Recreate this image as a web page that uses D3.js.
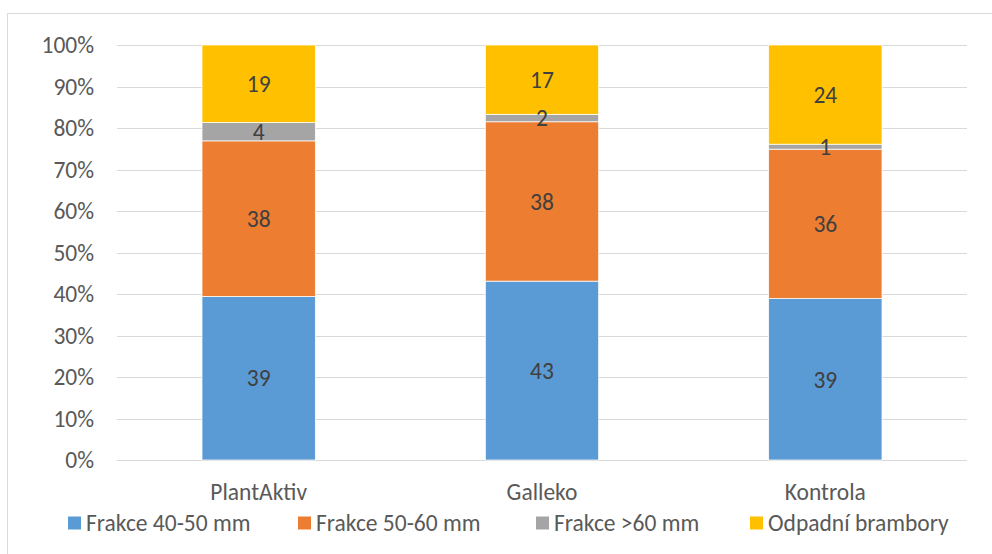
<!DOCTYPE html>
<html>
<head>
<meta charset="utf-8">
<script src="https://cdn.jsdelivr.net/npm/d3@7"></script>
<style>
  body { margin: 0; background: #fff; }
  text { font-family: Carlito, Calibri, Lato, sans-serif; }
</style>
</head>
<body>
<div class="container"></div>
<script>
// data (percent of total per variant)
const categories = ['PlantAktiv', 'Galleko', 'Kontrola'];
const seriesNames = ['Frakce 40-50 mm', 'Frakce 50-60 mm', 'Frakce >60 mm', 'Odpadní brambory'];
const frakce4050 = [39.4, 43.1, 38.9];
const frakce5060 = [37.5, 38.4, 36.0];
const frakce60 = [4.4, 1.8, 1.2];
const odpadni = [18.7, 16.7, 23.9];
const yTicks = [0, 0.1, 0.2, 0.3, 0.4, 0.5, 0.6, 0.7, 0.8, 0.9, 1];

const colors = ['#5b9bd5', '#ed7d31', '#a5a5a5', '#ffc000'];
const fontSize = 23.5;

const W = 992, H = 554;
const svg = d3.select('.container')
  .append('svg')
  .attr('width', W)
  .attr('height', H);

// chart border
svg.append('rect')
  .attr('x', 7.5).attr('y', 13.5)
  .attr('width', W).attr('height', H)
  .attr('fill', 'none')
  .attr('stroke', '#d9d9d9');

const x = d3.scaleBand().domain(categories).range([117, 967]);
const y = d3.scaleLinear().domain([0, 1]).range([460, 45]);

// rows for the stack, normalised to 100 %
const rows = categories.map((c, i) => {
  const vals = [frakce4050[i], frakce5060[i], frakce60[i], odpadni[i]];
  const total = d3.sum(vals);
  const row = { cat: c };
  seriesNames.forEach((s, j) => { row[s] = vals[j] / total; row[s + '_raw'] = vals[j]; });
  return row;
});
const stacked = d3.stack().keys(seriesNames)(rows);

// gridlines
svg.append('g')
  .selectAll('line')
  .data(yTicks)
  .join('line')
  .attr('x1', 117).attr('x2', 967)
  .attr('y1', d => Math.round(y(d)) + 0.5)
  .attr('y2', d => Math.round(y(d)) + 0.5)
  .attr('stroke', '#d9d9d9')
  .attr('stroke-width', 1);

// y axis labels
const yAxis = svg.append('g')
  .attr('transform', 'translate(94,0)')
  .call(d3.axisLeft(y).tickValues(yTicks).tickFormat(d3.format('.0%')).tickSize(0).tickPadding(0));
yAxis.select('.domain').remove();
yAxis.selectAll('text')
  .attr('font-size', fontSize)
  .attr('fill', '#595959')
  .attr('font-family', 'Carlito, Calibri, Lato, sans-serif');

const barW = x.bandwidth() * 0.4;

const layers = svg.append('g')
  .selectAll('g')
  .data(stacked)
  .join('g')
  .attr('fill', (d, i) => colors[i]);

layers.selectAll('rect')
  .data(d => d)
  .join('rect')
  .attr('x', d => x(d.data.cat) + x.bandwidth() / 2 - barW / 2)
  .attr('y', d => y(d[1]))
  .attr('width', barW)
  .attr('height', d => y(d[0]) - y(d[1]))
  .attr('stroke', '#fff')
  .attr('stroke-width', 0.75);

// data labels
stacked.forEach(layer => {
  svg.append('g')
    .selectAll('text')
    .data(layer)
    .join('text')
    .attr('x', d => x(d.data.cat) + x.bandwidth() / 2)
    .attr('y', d => (y(d[0]) + y(d[1])) / 2)
    .attr('dy', '0.35em')
    .attr('text-anchor', 'middle')
    .attr('font-size', fontSize)
    .attr('fill', '#404040')
    .text(d => Math.round(d.data[layer.key + '_raw']));
});

// category labels
svg.append('g')
  .selectAll('text')
  .data(categories)
  .join('text')
  .attr('x', d => x(d) + x.bandwidth() / 2)
  .attr('y', 492)
  .attr('dy', '0.35em')
  .attr('text-anchor', 'middle')
  .attr('font-size', fontSize)
  .attr('fill', '#595959')
  .text(d => d);

// legend
const legendX = [68, 298, 536, 750];
const legend = svg.append('g')
  .selectAll('g')
  .data(seriesNames)
  .join('g')
  .attr('transform', (d, i) => `translate(${legendX[i]},523)`);
legend.append('rect')
  .attr('x', 0).attr('y', -6.5)
  .attr('width', 13).attr('height', 13)
  .attr('fill', (d, i) => colors[i]);
legend.append('text')
  .attr('x', 18)
  .attr('dy', '0.35em')
  .attr('font-size', fontSize)
  .attr('fill', '#595959')
  .text(d => d);
</script>
</body>
</html>
